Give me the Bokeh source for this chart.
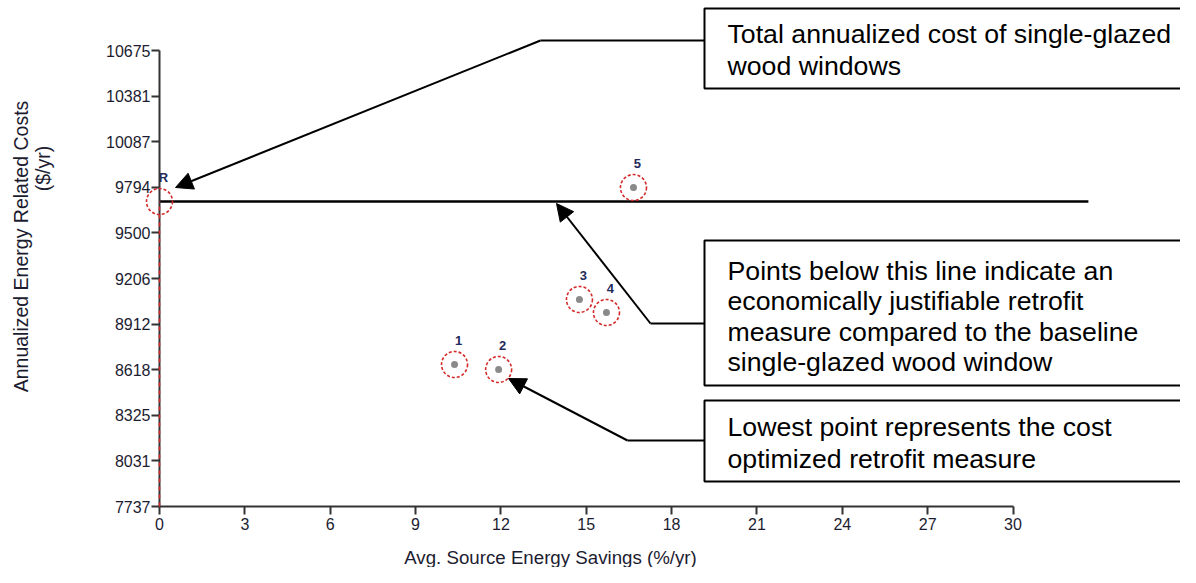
import numpy as np
from bokeh.plotting import figure
from bokeh.models import (LinearAxis, FixedTicker, Range1d, Arrow, NormalHead,
                          NumeralTickFormatter, ColumnDataSource)
from bokeh.core.properties import value
from bokeh.embed import file_html
from bokeh.resources import INLINE

# ---------------- data ----------------
point_labels = ["R", "1", "2", "3", "4", "5"]
savings = [0.0, 10.37, 11.92, 14.76, 15.71, 16.66]        # Avg. source energy savings (%/yr)
costs = [9702, 8652, 8620, 9071, 8987, 9792]              # Annualized energy related costs ($/yr)

x_tick_labels = ["0", "3", "6", "9", "12", "15", "18", "21", "24", "27", "30"]
y_tick_labels = ["7737", "8031", "8325", "8618", "8912", "9206", "9500",
                 "9794", "10087", "10381", "10675"]
baseline_end = 32.65   # extent of the baseline cost line along x

x_label = "Avg. Source Energy Savings (%/yr)"
y_label_lines = ["Annualized Energy Related Costs", "($/yr)"]

box_texts = [
    ["Total annualized cost of single-glazed", "wood windows"],
    ["Points below this line indicate an", "economically justifiable retrofit",
     "measure compared to the baseline", "single-glazed wood window"],
    ["Lowest point represents the cost", "optimized retrofit measure"],
]

# ---------------- layout (canvas pixel -> data) ----------------
W, H = 1180, 567
X_TICKS = [float(t) for t in x_tick_labels]
Y_TICKS = [float(t) for t in y_tick_labels]
PX_X = 28.45          # px per x unit
PX_Y = 456 / (Y_TICKS[-1] - Y_TICKS[0])  # px per y unit
XS = X_TICKS[0] - 159 / PX_X
XE = XS + W / PX_X
YE = Y_TICKS[-1] + 50 / PX_Y
YS = YE - H / PX_Y


def dx(px):
    return XS + px / PX_X


def dy(py):
    return YE - py / PX_Y


p = figure(width=W, height=H, x_range=Range1d(XS, XE), y_range=Range1d(YS, YE),
           output_backend="svg", toolbar_location=None, min_border=0,
           x_axis_type=None, y_axis_type=None)
p.outline_line_color = None
p.background_fill_color = "white"
p.border_fill_color = "white"

FONT = "Liberation Sans"
AX_COL = "#333333"
LBL_COL = "#1c1c30"

yax = LinearAxis(fixed_location=X_TICKS[0], ticker=FixedTicker(ticks=Y_TICKS),
                 formatter=NumeralTickFormatter(format="0"),
                 bounds=(Y_TICKS[0], Y_TICKS[-1]))
xax = LinearAxis(fixed_location=Y_TICKS[0], ticker=FixedTicker(ticks=X_TICKS),
                 formatter=NumeralTickFormatter(format="0"),
                 bounds=(X_TICKS[0], X_TICKS[-1]))
for ax in (yax, xax):
    ax.axis_line_width = 2
    ax.axis_line_color = AX_COL
    ax.major_tick_line_width = 2
    ax.major_tick_line_color = AX_COL
    ax.major_tick_out = 8
    ax.major_tick_in = 0
    ax.minor_tick_out = 0
    ax.minor_tick_in = 0
    ax.major_label_text_font = FONT
    ax.major_label_text_font_size = "16px"
    ax.major_label_text_color = LBL_COL
yax.major_label_standoff = 1
xax.major_label_standoff = 3
p.add_layout(yax, "left")
p.add_layout(xax, "below")

# baseline line (cost of R) and red drop line at R
p.segment(x0=[savings[0]], y0=[costs[0]], x1=[baseline_end], y1=[costs[0]],
          line_color="black", line_width=2.5)
p.segment(x0=[savings[0]], y0=[Y_TICKS[0]], x1=[savings[0]], y1=[costs[0]],
          line_color="#d42a2a", line_width=1.5, line_dash="4 4", level="overlay")

src = ColumnDataSource(dict(x=savings, y=costs, lab=point_labels))
p.scatter("x", "y", source=src, size=26, marker="circle", fill_color=None,
          line_color="#d42a2a", line_width=1.6, line_dash="3 2", level="overlay")
p.scatter("x", "y", source=ColumnDataSource(dict(x=savings[1:], y=costs[1:])),
          size=7, marker="circle", fill_color="#8a8a8a", line_color=None, level="overlay")
p.text("x", "y", text="lab", source=src, x_offset=4, y_offset=-24,
       text_font=value(FONT), text_font_size="13px", text_font_style="bold",
       text_color="#1f2a5a", text_align="center", text_baseline="middle")

# axis titles
p.text(x=[dx(550)], y=[dy(557)], text=[x_label], text_font=value(FONT),
       text_font_size="18.7px", text_color=LBL_COL, text_align="center",
       text_baseline="middle")
p.text(x=[dx(20), dx(42)], y=[dy(246), dy(168)], text=y_label_lines,
       angle=np.pi / 2, text_font=value(FONT), text_font_size="19.5px",
       text_color=LBL_COL, text_align="center", text_baseline="middle")

# annotation boxes
box_tb = [(8, 88), (240, 385), (400, 481)]
line_y = [[33, 65], [270, 300, 331, 361], [426, 458]]
for (t, b), lines, ys in zip(box_tb, box_texts, line_y):
    p.quad(left=[dx(704)], right=[dx(1200)], top=[dy(t)], bottom=[dy(b)],
           fill_color="white", line_color="black", line_width=2)
    p.text(x=[dx(727)] * len(lines), y=[dy(v) for v in ys], text=lines,
           text_font=value(FONT), text_font_size="26.7px", text_color="black",
           text_align="left", text_baseline="middle")

# leader arrows: (box edge y, bend x, tip x, tip y)
leaders = [(40, 540, 175, 187), (323, 650, 556, 203), (440, 627, 508, 378)]
for by, bx, tx, ty in leaders:
    p.line(x=[dx(704), dx(bx)], y=[dy(by), dy(by)], line_color="black", line_width=2)
    p.add_layout(Arrow(end=NormalHead(size=17, fill_color="black", line_color="black"),
                       x_start=dx(bx), y_start=dy(by), x_end=dx(tx), y_end=dy(ty),
                       line_color="black", line_width=2))

open("out.html", "w").write(file_html(p, INLINE))
